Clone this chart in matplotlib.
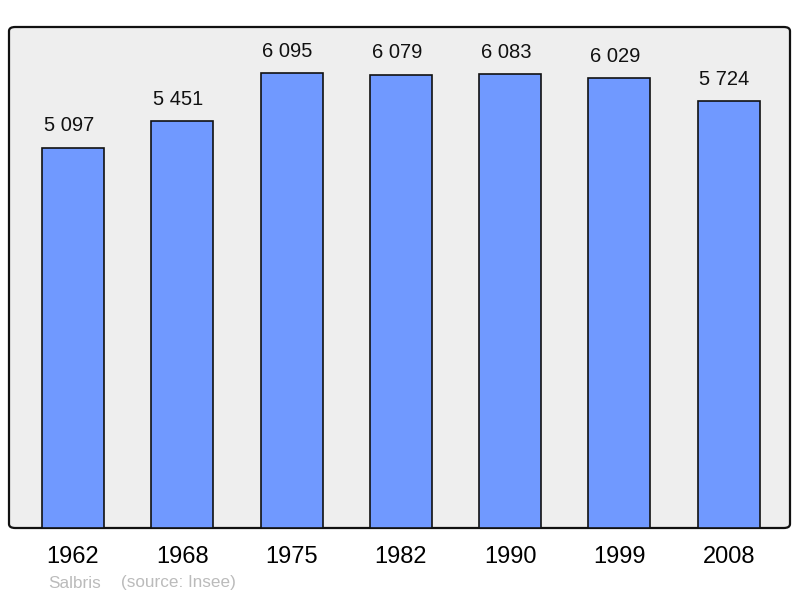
import matplotlib
matplotlib.use("Agg")
import matplotlib.pyplot as plt
from matplotlib.patches import FancyBboxPatch

years = ["1962", "1968", "1975", "1982", "1990", "1999", "2008"]
population = [5097, 5451, 6095, 6079, 6083, 6029, 5724]
commune = "Salbris"
source = "(source: Insee)"

plt.rcParams['font.family'] = ['Liberation Sans', 'DejaVu Sans']

fig = plt.figure(figsize=(8.0, 5.98), dpi=100)
ax = fig.add_axes([9/800, 70/598, 781/800, 501/598])
ax.set_facecolor('none')
for s in ax.spines.values():
    s.set_visible(False)

bg = FancyBboxPatch((0, 0), 1, 1, boxstyle="round,pad=0,rounding_size=0.008",
                    transform=ax.transAxes, facecolor='#eeeeee', edgecolor='#111111',
                    linewidth=1.6, zorder=0, clip_on=False)
ax.add_patch(bg)

x = list(range(len(years)))
bars = ax.bar(x, population, width=0.567, color='#7099ff', edgecolor='#111111',
              linewidth=1.2, zorder=2)
for xi, v in zip(x, population):
    ax.annotate(f"{v:,}".replace(",", " "), (xi, v), xytext=(-3, 9),
                textcoords='offset points', ha='center', va='bottom',
                fontsize=14.5, color='#111111')

ax.set_xlim(-0.585, 6.56)
ax.set_ylim(0, 6716)
ax.set_yticks([])
ax.set_xticks(x)
ax.set_xticklabels(years, fontsize=17)
ax.tick_params(axis='x', length=0, pad=13)

fig.text(48/800, 1 - 583/598, commune, fontsize=12.3, color='#bbbbbb', va='center')
fig.text(121/800, 1 - 583/598, source, fontsize=12.3, color='#bbbbbb', va='center')

fig.savefig("out.png", dpi=100)
